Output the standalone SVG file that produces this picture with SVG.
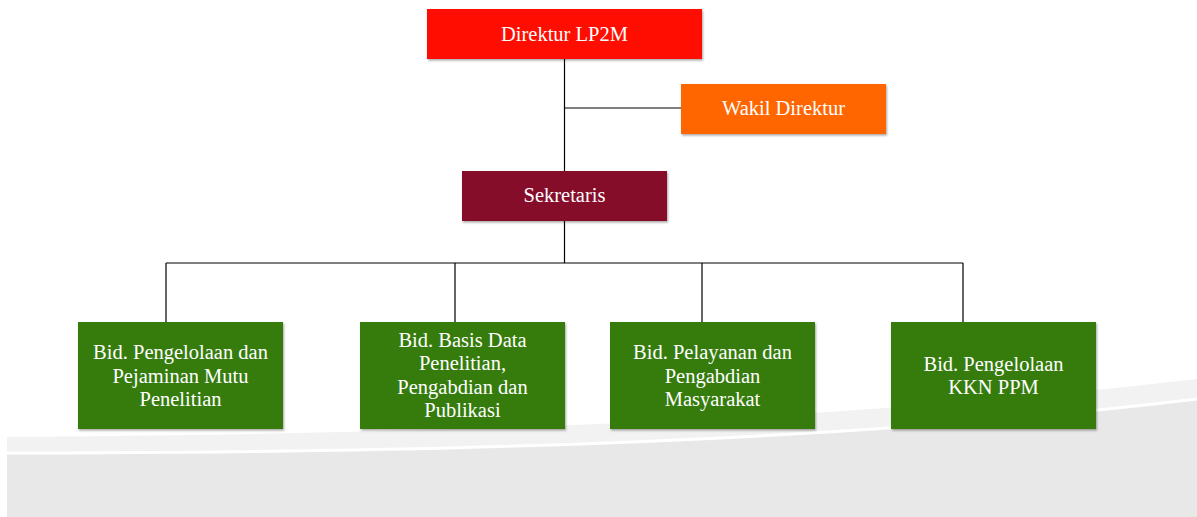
<svg xmlns="http://www.w3.org/2000/svg" width="1197" height="517" viewBox="0 0 1197 517">
<defs>
<filter id="sh" x="-10%" y="-10%" width="125%" height="130%">
<feDropShadow dx="1" dy="1.5" stdDeviation="1.2" flood-color="#000" flood-opacity="0.35"/>
</filter>
<style>
.t{font-family:"Liberation Serif","Times New Roman",serif;font-size:20.5px;fill:#ffffff;text-anchor:middle}
.ln{stroke:#000;stroke-width:1.2;fill:none}
.g{fill:#347b09;filter:url(#sh)}
</style>
</defs>
<rect width="1197" height="517" fill="#ffffff"/>
<g id="background">
<path d="M7,437 C450,434 850,420 1197,379 L1197,517 L7,517 Z" fill="#f2f2f2"/>
<path d="M7,453 C450,453 850,441 1197,399 L1197,517 L7,517 Z" fill="#e8e8e8"/>
<path d="M7,453 C450,453 850,441 1197,399" fill="none" stroke="#ffffff" stroke-width="3"/>
</g>
<g id="connectors">
<path class="ln" d="M564.5,59 V171 M564.5,108 H681 M564.5,221 V263 M166,263 H963 M166,263 V322 M455,263 V322 M702,263 V322 M963,263 V322"/>
</g>
<g id="direktur">
<rect x="427" y="9" width="275" height="50" fill="#ff1100" filter="url(#sh)"/>
<text class="t" x="564.5" y="41">Direktur LP2M</text>
</g>
<g id="wakil">
<rect x="681" y="84" width="205" height="50" fill="#ff6600" filter="url(#sh)"/>
<text class="t" x="783.5" y="115">Wakil Direktur</text>
</g>
<g id="sekretaris">
<rect x="462" y="171" width="205" height="50" fill="#86102b" filter="url(#sh)"/>
<text class="t" x="564.5" y="202">Sekretaris</text>
</g>
<g id="bid1">
<rect class="g" x="78" y="322" width="205" height="107"/>
<text class="t" x="180.5" y="359">Bid. Pengelolaan dan</text>
<text class="t" x="180.5" y="383">Pejaminan Mutu</text>
<text class="t" x="180.5" y="406">Penelitian</text>
</g>
<g id="bid2">
<rect class="g" x="360" y="322" width="205" height="107"/>
<text class="t" x="462.5" y="347">Bid. Basis Data</text>
<text class="t" x="462.5" y="370">Penelitian,</text>
<text class="t" x="462.5" y="394">Pengabdian dan</text>
<text class="t" x="462.5" y="417">Publikasi</text>
</g>
<g id="bid3">
<rect class="g" x="610" y="322" width="205" height="107"/>
<text class="t" x="712.5" y="359">Bid. Pelayanan dan</text>
<text class="t" x="712.5" y="383">Pengabdian</text>
<text class="t" x="712.5" y="406">Masyarakat</text>
</g>
<g id="bid4">
<rect class="g" x="891" y="322" width="205" height="107"/>
<text class="t" x="993.5" y="371">Bid. Pengelolaan</text>
<text class="t" x="993.5" y="394">KKN PPM</text>
</g>
</svg>
